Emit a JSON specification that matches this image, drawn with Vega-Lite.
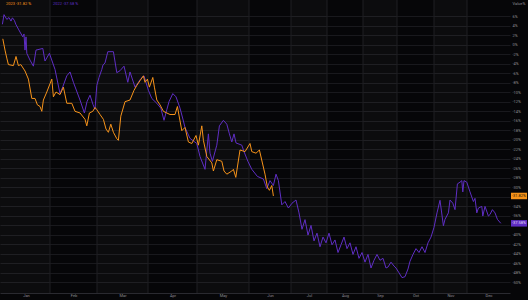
{
"$schema":"https://vega.github.io/schema/vega-lite/v6.json",
"width":510,"height":293,
"autosize":{"type":"none"},
"padding":{"left":0,"top":0,"right":18,"bottom":7},
"background":"#060608",
"config":{"view":{"stroke":null},"font":"Roboto"},
"datasets":{
"series":[
{"s":"2022","t":0.2,"v":4.34},{"s":"2022","t":1,"v":6.37},{"s":"2022","t":2.4,"v":5.36},{"s":"2022","t":3.5,"v":5.76},{"s":"2022","t":4.5,"v":5.01},{"s":"2022","t":5.2,"v":5.7},{"s":"2022","t":6.2,"v":5.15},{"s":"2022","t":6.9,"v":4.34},{"s":"2022","t":8.2,"v":3.32},{"s":"2022","t":9,"v":2.71},{"s":"2022","t":10.4,"v":1.69},{"s":"2022","t":11,"v":2.3},{"s":"2022","t":11.5,"v":-1.1},{"s":"2022","t":12,"v":1.69},{"s":"2022","t":12.4,"v":-1.77},{"s":"2022","t":14,"v":-3.2},{"s":"2022","t":15.7,"v":-4.48},{"s":"2022","t":17,"v":-1.1},{"s":"2022","t":20.4,"v":-0.75},{"s":"2022","t":21.5,"v":-3.4},{"s":"2022","t":23.7,"v":-1.77},{"s":"2022","t":26.5,"v":-5.17},{"s":"2022","t":29,"v":-10.26},{"s":"2022","t":30.5,"v":-8.7},{"s":"2022","t":32.4,"v":-6.52},{"s":"2022","t":34,"v":-5.7},{"s":"2022","t":35.7,"v":-7.88},{"s":"2022","t":37.5,"v":-9.92},{"s":"2022","t":39,"v":-11.61},{"s":"2022","t":41.2,"v":-14.34},{"s":"2022","t":42.5,"v":-11.96},{"s":"2022","t":44,"v":-10.59},{"s":"2022","t":45.5,"v":-12.57},{"s":"2022","t":46.5,"v":-13.58},{"s":"2022","t":47.4,"v":-8.55},{"s":"2022","t":48.5,"v":-6.86},{"s":"2022","t":49.9,"v":-5.17},{"s":"2022","t":50.5,"v":-4.22},{"s":"2022","t":51.5,"v":-3.81},{"s":"2022","t":52.9,"v":-1.43},{"s":"2022","t":55.7,"v":-1.43},{"s":"2022","t":57.4,"v":-5.85},{"s":"2022","t":59,"v":-5.44},{"s":"2022","t":61,"v":-4.48},{"s":"2022","t":62.9,"v":-7.88},{"s":"2022","t":64,"v":-5.7},{"s":"2022","t":66.5,"v":-8.9},{"s":"2022","t":68.2,"v":-7.88},{"s":"2022","t":69.5,"v":-7.07},{"s":"2022","t":71,"v":-6.52},{"s":"2022","t":73.2,"v":-9.57},{"s":"2022","t":74.9,"v":-11.28},{"s":"2022","t":77.4,"v":-12.3},{"s":"2022","t":79.4,"v":-13.32},{"s":"2022","t":81,"v":-15.89},{"s":"2022","t":82.4,"v":-13.65},{"s":"2022","t":83.5,"v":-11.96},{"s":"2022","t":85.4,"v":-10.26},{"s":"2022","t":87,"v":-10.94},{"s":"2022","t":89,"v":-13.32},{"s":"2022","t":90.7,"v":-16.03},{"s":"2022","t":91.5,"v":-17.39},{"s":"2022","t":94,"v":-19.69},{"s":"2022","t":97.4,"v":-20.77},{"s":"2022","t":99,"v":-23.5},{"s":"2022","t":101.5,"v":-26.21},{"s":"2022","t":103.2,"v":-18.74},{"s":"2022","t":104,"v":-22.81},{"s":"2022","t":105.2,"v":-24.52},{"s":"2022","t":107.4,"v":-21.12},{"s":"2022","t":108.7,"v":-17.05},{"s":"2022","t":110.7,"v":-15.89},{"s":"2022","t":112.4,"v":-16.7},{"s":"2022","t":113.7,"v":-18.74},{"s":"2022","t":114.9,"v":-20.45},{"s":"2022","t":116,"v":-18.74},{"s":"2022","t":117,"v":-20.65},{"s":"2022","t":119.9,"v":-21.12},{"s":"2022","t":121,"v":-22.48},{"s":"2022","t":123,"v":-24.58},{"s":"2022","t":124.9,"v":-26.21},{"s":"2022","t":127.7,"v":-27.7},{"s":"2022","t":130.7,"v":-28.25},{"s":"2022","t":132.4,"v":-30.29},{"s":"2022","t":134,"v":-28.59},{"s":"2022","t":135.7,"v":-29.61},{"s":"2022","t":137,"v":-27.23},{"s":"2022","t":138.2,"v":-28.59},{"s":"2022","t":139.9,"v":-33.69},{"s":"2022","t":141.5,"v":-32.99},{"s":"2022","t":143.2,"v":-34.36},{"s":"2022","t":145,"v":-33.34},{"s":"2022","t":147,"v":-32.67},{"s":"2022","t":148.5,"v":-35.38},{"s":"2022","t":150,"v":-38.84},{"s":"2022","t":151.5,"v":-36.8},{"s":"2022","t":153,"v":-40.06},{"s":"2022","t":154.5,"v":-38.02},{"s":"2022","t":156,"v":-41.28},{"s":"2022","t":157.5,"v":-39.65},{"s":"2022","t":159,"v":-42.51},{"s":"2022","t":160.5,"v":-40.47},{"s":"2022","t":162,"v":-41.69},{"s":"2022","t":163.5,"v":-39.65},{"s":"2022","t":165,"v":-42.1},{"s":"2022","t":166.5,"v":-41.08},{"s":"2022","t":168,"v":-43.73},{"s":"2022","t":169.5,"v":-42.1},{"s":"2022","t":171,"v":-40.47},{"s":"2022","t":172.5,"v":-42.91},{"s":"2022","t":174,"v":-41.69},{"s":"2022","t":175.5,"v":-44.13},{"s":"2022","t":177,"v":-42.51},{"s":"2022","t":178.5,"v":-44.95},{"s":"2022","t":180,"v":-43.73},{"s":"2022","t":181.5,"v":-45.76},{"s":"2022","t":183,"v":-44.13},{"s":"2022","t":184.5,"v":-46.99},{"s":"2022","t":186,"v":-45.36},{"s":"2022","t":187.5,"v":-44.13},{"s":"2022","t":189,"v":-45.36},{"s":"2022","t":190.5,"v":-44.95},{"s":"2022","t":192,"v":-46.99},{"s":"2022","t":193,"v":-46.78},{"s":"2022","t":194.5,"v":-45.76},{"s":"2022","t":196,"v":-46.58},{"s":"2022","t":197,"v":-46.99},{"s":"2022","t":198.5,"v":-48.0},{"s":"2022","t":200,"v":-49.02},{"s":"2022","t":201.5,"v":-48.82},{"s":"2022","t":203,"v":-47.19},{"s":"2022","t":204,"v":-45.56},{"s":"2022","t":205.5,"v":-44.13},{"s":"2022","t":207,"v":-42.91},{"s":"2022","t":208.5,"v":-43.73},{"s":"2022","t":210,"v":-42.51},{"s":"2022","t":211.5,"v":-43.73},{"s":"2022","t":213,"v":-41.69},{"s":"2022","t":214.5,"v":-40.47},{"s":"2022","t":216,"v":-38.43},{"s":"2022","t":217.5,"v":-35.38},{"s":"2022","t":219,"v":-32.73},{"s":"2022","t":220.7,"v":-38.09},{"s":"2022","t":221.5,"v":-36.74},{"s":"2022","t":223.2,"v":-35.38},{"s":"2022","t":224,"v":-32.67},{"s":"2022","t":225.4,"v":-33.34},{"s":"2022","t":226.5,"v":-34.7},{"s":"2022","t":227.7,"v":-29.27},{"s":"2022","t":229,"v":-28.92},{"s":"2022","t":229.9,"v":-28.59},{"s":"2022","t":230.4,"v":-30.96},{"s":"2022","t":231,"v":-28.59},{"s":"2022","t":232.4,"v":-28.92},{"s":"2022","t":234,"v":-30.96},{"s":"2022","t":235.7,"v":-32.99},{"s":"2022","t":236.5,"v":-32.32},{"s":"2022","t":237.4,"v":-35.38},{"s":"2022","t":238.2,"v":-34.36},{"s":"2022","t":239.9,"v":-34.01},{"s":"2022","t":240.4,"v":-36.05},{"s":"2022","t":241.5,"v":-34.01},{"s":"2022","t":243.2,"v":-36.05},{"s":"2022","t":244,"v":-35.72},{"s":"2022","t":245.2,"v":-34.7},{"s":"2022","t":246.5,"v":-35.38},{"s":"2022","t":247.7,"v":-36.74},{"s":"2022","t":249.4,"v":-37.58},
{"s":"2023","t":0.4,"v":1.28},{"s":"2023","t":1.5,"v":-1.1},{"s":"2023","t":2.4,"v":-2.79},{"s":"2023","t":3.2,"v":-4.15},{"s":"2023","t":5.7,"v":-4.36},{"s":"2023","t":7,"v":-2.44},{"s":"2023","t":8.2,"v":-4.36},{"s":"2023","t":9.4,"v":-4.15},{"s":"2023","t":11.5,"v":-5.5},{"s":"2023","t":13.2,"v":-7.21},{"s":"2023","t":14.9,"v":-11.28},{"s":"2023","t":16.5,"v":-11.28},{"s":"2023","t":17.7,"v":-12.63},{"s":"2023","t":19,"v":-12.97},{"s":"2023","t":19.9,"v":-13.99},{"s":"2023","t":20.7,"v":-11.61},{"s":"2023","t":22.4,"v":-9.92},{"s":"2023","t":24.9,"v":-7.21},{"s":"2023","t":25.7,"v":-10.94},{"s":"2023","t":27,"v":-9.92},{"s":"2023","t":29,"v":-10.47},{"s":"2023","t":30.7,"v":-8.9},{"s":"2023","t":32.4,"v":-12.3},{"s":"2023","t":34.9,"v":-12.3},{"s":"2023","t":36.5,"v":-13.99},{"s":"2023","t":39,"v":-14.34},{"s":"2023","t":41.5,"v":-15.68},{"s":"2023","t":42.4,"v":-17.05},{"s":"2023","t":43.7,"v":-14.34},{"s":"2023","t":45.4,"v":-13.99},{"s":"2023","t":46.5,"v":-13.18},{"s":"2023","t":47.4,"v":-13.65},{"s":"2023","t":49,"v":-14.66},{"s":"2023","t":50.7,"v":-15.68},{"s":"2023","t":52,"v":-17.72},{"s":"2023","t":53.2,"v":-18.41},{"s":"2023","t":54.4,"v":-16.7},{"s":"2023","t":55.7,"v":-18.41},{"s":"2023","t":57.4,"v":-19.76},{"s":"2023","t":58.2,"v":-20.1},{"s":"2023","t":59.4,"v":-15.01},{"s":"2023","t":61.5,"v":-11.96},{"s":"2023","t":64,"v":-11.61},{"s":"2023","t":66,"v":-9.57},{"s":"2023","t":67.4,"v":-8.55},{"s":"2023","t":69,"v":-7.54},{"s":"2023","t":70.7,"v":-6.52},{"s":"2023","t":71.5,"v":-7.88},{"s":"2023","t":72.7,"v":-7.21},{"s":"2023","t":73.7,"v":-8.9},{"s":"2023","t":75.4,"v":-6.86},{"s":"2023","t":76.2,"v":-8.9},{"s":"2023","t":77.4,"v":-11.61},{"s":"2023","t":79,"v":-12.63},{"s":"2023","t":80.7,"v":-13.99},{"s":"2023","t":82.4,"v":-14.34},{"s":"2023","t":84,"v":-14.66},{"s":"2023","t":86.5,"v":-14.66},{"s":"2023","t":87.7,"v":-12.97},{"s":"2023","t":89.9,"v":-18.07},{"s":"2023","t":91.5,"v":-17.39},{"s":"2023","t":93.2,"v":-20.45},{"s":"2023","t":94.9,"v":-20.77},{"s":"2023","t":97,"v":-19.08},{"s":"2023","t":98.2,"v":-21.12},{"s":"2023","t":99.9,"v":-17.05},{"s":"2023","t":100.7,"v":-20.1},{"s":"2023","t":102.4,"v":-23.5},{"s":"2023","t":104.9,"v":-24.85},{"s":"2023","t":105.7,"v":-26.56},{"s":"2023","t":107.4,"v":-24.18},{"s":"2023","t":109.9,"v":-24.52},{"s":"2023","t":111,"v":-26.56},{"s":"2023","t":112.4,"v":-27.23},{"s":"2023","t":114.9,"v":-26.56},{"s":"2023","t":115.7,"v":-26.21},{"s":"2023","t":116.9,"v":-27.9},{"s":"2023","t":119,"v":-22.14},{"s":"2023","t":121.5,"v":-22.48},{"s":"2023","t":124,"v":-20.77},{"s":"2023","t":124.9,"v":-22.48},{"s":"2023","t":127,"v":-22.81},{"s":"2023","t":128.7,"v":-22.14},{"s":"2023","t":131.5,"v":-27.23},{"s":"2023","t":132.7,"v":-29.94},{"s":"2023","t":133.7,"v":-30.63},{"s":"2023","t":134.9,"v":-29.61},{"s":"2023","t":135.7,"v":-31.82}
],
"months":[
{"m":"Jan","k":1,"a":-1,"b":24},{"m":"Feb","k":2,"a":24,"b":47.5},{"m":"Mar","k":3,"a":47.5,"b":73},{"m":"Apr","k":4,"a":73,"b":97.5},{"m":"May","k":5,"a":97.5,"b":123.5},{"m":"Jun","k":6,"a":123.5,"b":144.5},{"m":"Jul","k":7,"a":144.5,"b":162.5},{"m":"Aug","k":8,"a":162.5,"b":180.5},{"m":"Sep","k":9,"a":180.5,"b":197.5},{"m":"Oct","k":10,"a":197.5,"b":216},{"m":"Nov","k":11,"a":216,"b":232.5},{"m":"Dec","k":12,"a":232.5,"b":254}
],
"tags":[{"s":"2023","v":-31.82,"lbl":"-31.82%"},{"s":"2022","v":-37.58,"lbl":"-37.58%"}]
},
"layer":[
{"data":{"name":"months"},"transform":[{"filter":"datum.k % 2 == 1"}],
 "mark":{"type":"rect","fill":"#ffffff","opacity":0.028},
 "encoding":{
  "x":{"field":"a","type":"quantitative","title":null,"scale":{"domain":[-1,254],"nice":false,"zero":false},
   "axis":{"orient":"bottom","title":null,"values":[12,35.75,60.25,85.25,110.5,134,153.5,171.5,189,206.75,224.25,243.25],
    "labelExpr":"['Jan','Feb','Mar','Apr','May','Jun','Jul','Aug','Sep','Oct','Nov','Dec'][indexof([12,35.75,60.25,85.25,110.5,134,153.5,171.5,189,206.75,224.25,243.25], datum.value)]",
    "grid":false,"ticks":false,"domain":true,"domainColor":"#2a2a30","labelFontSize":4,"labelColor":"#8c8c92","labelPadding":0.5,"labelFlush":false,"labelOverlap":false}},
  "x2":{"field":"b"}}},
{"data":{"name":"months"},"transform":[{"filter":"datum.a > 0"}],
 "mark":{"type":"rule","color":"#1e1e23","strokeWidth":1},
 "encoding":{"x":{"field":"a","type":"quantitative","title":null}}},
{"data":{"name":"series"},
 "mark":{"type":"line","strokeWidth":1},
 "encoding":{
  "x":{"field":"t","type":"quantitative","title":null},
  "y":{"field":"v","type":"quantitative","title":null,"scale":{"domain":[-51.2,8.4],"nice":false,"zero":false},
   "axis":{"orient":"right","values":[-50,-48,-46,-44,-42,-40,-38,-36,-34,-32,-30,-28,-26,-24,-22,-20,-18,-16,-14,-12,-10,-8,-6,-4,-2,0,2,4,6],
    "labelExpr":"datum.value == -32 || datum.value == -38 ? '' : datum.value + '%'",
    "grid":true,"gridColor":"#19191d","gridWidth":1,"domain":false,"ticks":false,"labelFontSize":4,"labelColor":"#8c8c92","labelPadding":2,"labelOverlap":false,"labelFlush":false,
    "title":"Value%","titleAngle":0,"titleX":2,"titleY":1,"titleAlign":"left","titleBaseline":"top","titleFontSize":4,"titleFontWeight":"normal","titleColor":"#8c8c92"}},
  "color":{"field":"s","type":"nominal","scale":{"domain":["2023","2022"],"range":["#f7931a","#5f2ec4"]},
   "legend":{"orient":"top-left","direction":"horizontal","offset":0,"padding":2,"title":null,"symbolSize":0,"symbolStrokeWidth":0,"labelOffset":0,"labelFontSize":4,"columnPadding":16,
    "labelExpr":"datum.label == '2023' ? '2023  -31.82 %' : '2022  -37.58 %'",
    "encode":{"labels":{"update":{"fill":{"scale":"color","field":"value"}}}}}}}},
{"data":{"name":"tags"},
 "mark":{"type":"bar","orient":"horizontal","size":6.5},
 "encoding":{
  "x":{"datum":254.5,"type":"quantitative","title":null},
  "x2":{"datum":262.5},
  "y":{"field":"v","type":"quantitative","title":null,
   "axis":{"orient":"right","values":[-50,-48,-46,-44,-42,-40,-38,-36,-34,-32,-30,-28,-26,-24,-22,-20,-18,-16,-14,-12,-10,-8,-6,-4,-2,0,2,4,6],
    "labelExpr":"datum.value == -32 || datum.value == -38 ? '' : datum.value + '%'",
    "grid":true,"gridColor":"#19191d","gridWidth":1,"domain":false,"ticks":false,"labelFontSize":4,"labelColor":"#8c8c92","labelPadding":2,"labelOverlap":false,"labelFlush":false,
    "title":"Value%","titleAngle":0,"titleX":2,"titleY":1,"titleAlign":"left","titleBaseline":"top","titleFontSize":4,"titleFontWeight":"normal","titleColor":"#8c8c92"}},
  "color":{"field":"s","type":"nominal"}}},
{"data":{"name":"tags"},
 "mark":{"type":"text","fontSize":4,"align":"center","baseline":"middle"},
 "encoding":{
  "x":{"datum":258.5,"type":"quantitative","title":null},
  "y":{"field":"v","type":"quantitative","title":null,
   "axis":{"orient":"right","values":[-50,-48,-46,-44,-42,-40,-38,-36,-34,-32,-30,-28,-26,-24,-22,-20,-18,-16,-14,-12,-10,-8,-6,-4,-2,0,2,4,6],
    "labelExpr":"datum.value == -32 || datum.value == -38 ? '' : datum.value + '%'",
    "grid":true,"gridColor":"#19191d","gridWidth":1,"domain":false,"ticks":false,"labelFontSize":4,"labelColor":"#8c8c92","labelPadding":2,"labelOverlap":false,"labelFlush":false,
    "title":"Value%","titleAngle":0,"titleX":2,"titleY":1,"titleAlign":"left","titleBaseline":"top","titleFontSize":4,"titleFontWeight":"normal","titleColor":"#8c8c92"}},
  "text":{"field":"lbl"},
  "color":{"condition":{"test":"datum.s == '2023'","value":"#2b1700"},"value":"#e0d8f5"}}}
]
}
